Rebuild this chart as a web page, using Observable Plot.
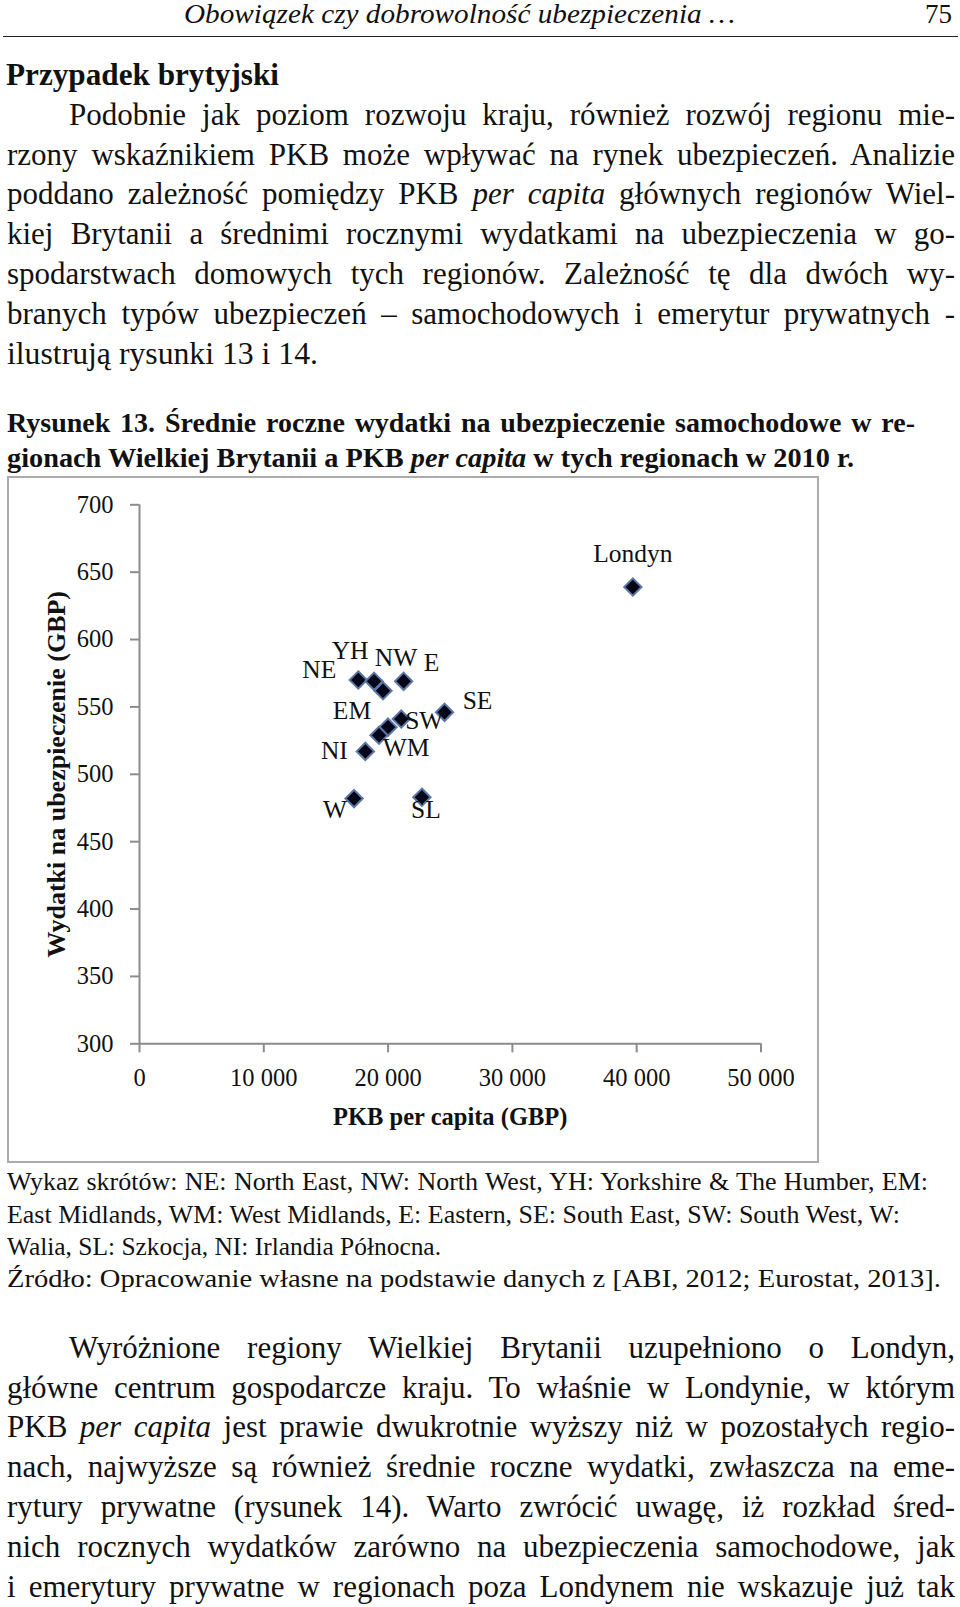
<!DOCTYPE html>
<html lang="pl">
<head>
<meta charset="utf-8">
<script src="https://cdn.jsdelivr.net/npm/d3@7"></script>
<script src="https://cdn.jsdelivr.net/npm/@observablehq/plot@0.6"></script>
<style>
  html, body { margin: 0; padding: 0; background: #fff; }
  body { width: 960px; height: 1607px; position: relative; overflow: hidden; font-family: "Liberation Serif", serif; color: #111; }
  .ln { position: absolute; white-space: nowrap; line-height: 1; }
  .ln > span { display: inline-block; transform-origin: 0 50%; }
  .hdr { font-size: 27px; font-style: italic; }
  .h2 { font-size: 31px; font-weight: bold; }
  .body { font-size: 31px; }
  .cap { font-size: 28px; font-weight: bold; }
  .leg { font-size: 26px; }
  #rule { position: absolute; left: 3px; width: 955px; top: 36px; height: 0; border-top: 1.6px solid #222; }
  #frame { position: absolute; left: 7px; top: 476px; width: 812px; height: 687px; border: 2px solid #ababab; box-sizing: border-box; }
  #chart { position: absolute; left: 8px; top: 477px; }
  #chart svg [aria-label="x-axis label"] text { font-weight: bold; font-size: 24.5px; }
  #chart svg [aria-label="y-axis label"] text { font-weight: bold; font-size: 26px; }
</style>
</head>
<body>
<div class="ln hdr" data-c="15.5" data-l="184" data-r="735"><span>Obowiązek czy dobrowolność ubezpieczenia …</span></div>
<div class="ln hdr" data-c="15.5" data-l="925" data-r="952" style="font-style:normal"><span>75</span></div>
<div id="rule"></div>

<div class="ln h2" data-c="75.5" data-l="6" data-r="279"><span>Przypadek brytyjski</span></div>

<div class="ln body" data-c="115" data-l="69" data-r="955" data-j="1"><span>Podobnie jak poziom rozwoju kraju, również rozwój regionu mie-</span></div>
<div class="ln body" data-c="154.8" data-l="7" data-r="955" data-j="1"><span>rzony wskaźnikiem PKB może wpływać na rynek ubezpieczeń. Analizie</span></div>
<div class="ln body" data-c="194.6" data-l="7" data-r="955" data-j="1"><span>poddano zależność pomiędzy PKB <i>per capita</i> głównych regionów Wiel-</span></div>
<div class="ln body" data-c="234.4" data-l="7" data-r="955" data-j="1"><span>kiej Brytanii a średnimi rocznymi wydatkami na ubezpieczenia w go-</span></div>
<div class="ln body" data-c="274.2" data-l="7" data-r="955" data-j="1"><span>spodarstwach domowych tych regionów. Zależność tę dla dwóch wy-</span></div>
<div class="ln body" data-c="314" data-l="7" data-r="955" data-j="1"><span>branych typów ubezpieczeń – samochodowych i emerytur prywatnych -</span></div>
<div class="ln body" data-c="353.8" data-l="7" data-r="318"><span>ilustrują rysunki 13 i 14.</span></div>

<div class="ln cap" data-c="424" data-l="7" data-r="915" data-j="1"><span>Rysunek 13. Średnie roczne wydatki na ubezpieczenie samochodowe w re-</span></div>
<div class="ln cap" data-c="459" data-l="7" data-r="854"><span>gionach Wielkiej Brytanii a PKB <i>per capita</i> w tych regionach w 2010 r.</span></div>

<div id="frame"></div>
<div id="chart"></div>

<div class="ln leg" data-c="1183" data-l="7" data-r="928" data-j="1"><span>Wykaz skrótów: NE: North East, NW: North West, YH: Yorkshire &amp; The Humber, EM:</span></div>
<div class="ln leg" data-c="1215.5" data-l="7" data-r="900" data-j="1"><span>East Midlands, WM: West Midlands, E: Eastern, SE: South East, SW: South West, W:</span></div>
<div class="ln leg" data-c="1248" data-l="7" data-r="441"><span>Walia, SL: Szkocja, NI: Irlandia Północna.</span></div>
<div class="ln leg" data-c="1280" data-l="7" data-r="941"><span>Źródło: Opracowanie własne na podstawie danych z [ABI, 2012; Eurostat, 2013].</span></div>

<div class="ln body" data-c="1348" data-l="69" data-r="955" data-j="1"><span>Wyróżnione regiony Wielkiej Brytanii uzupełniono o Londyn,</span></div>
<div class="ln body" data-c="1387.8" data-l="7" data-r="955" data-j="1"><span>główne centrum gospodarcze kraju. To właśnie w Londynie, w którym</span></div>
<div class="ln body" data-c="1427.6" data-l="7" data-r="955" data-j="1"><span>PKB <i>per capita</i> jest prawie dwukrotnie wyższy niż w pozostałych regio-</span></div>
<div class="ln body" data-c="1467.4" data-l="7" data-r="955" data-j="1"><span>nach, najwyższe są również średnie roczne wydatki, zwłaszcza na eme-</span></div>
<div class="ln body" data-c="1507.2" data-l="7" data-r="955" data-j="1"><span>rytury prywatne (rysunek 14). Warto zwrócić uwagę, iż rozkład śred-</span></div>
<div class="ln body" data-c="1547" data-l="7" data-r="955" data-j="1"><span>nich rocznych wydatków zarówno na ubezpieczenia samochodowe, jak</span></div>
<div class="ln body" data-c="1586.8" data-l="7" data-r="955" data-j="1"><span>i emerytury prywatne w regionach poza Londynem nie wskazuje już tak</span></div>

<script>
// ---- Data ----
const regions = ["NE", "YH", "NW", "E", "EM", "WM", "SW", "SE", "NI", "W", "SL", "Londyn"];
const gdpPerCapita = [17600, 18870, 19590, 21250, 19990, 19270, 21060, 24540, 18170, 17260, 22720, 39690];
const carInsuranceSpend = [570, 569, 562, 569, 535, 529, 541, 546, 517, 482, 483, 639];
const xTicks = [0, 10000, 20000, 30000, 40000, 50000];
const yTicks = [300, 350, 400, 450, 500, 550, 600, 650, 700];
const xTitle = "PKB per capita (GBP)";
const yTitle = "Wydatki na ubezpieczenie (GBP)";

// ---- Label placement (style, in pixels relative to each point) ----
const labelPlacement = {
  NE: [-39, -10], YH: [-24, -30], NW: [13, -33], E: [28, -18],
  EM: [-36, -16], WM: [27, 13], SW: [23, 1.5], SE: [33, -11],
  NI: [-31, -1], W: [-19, 11], SL: [4, 13], Londyn: [0, -33]
};

const table = regions.map((r, i) => ({region: r, gdp: gdpPerCapita[i], spend: carInsuranceSpend[i]}));
const fmtX = d => d3.format(",")(d).replace(/,/g, "\u00a0");
const axisGray = "#8c8c8c";

const chart = Plot.plot({
  width: 810,
  height: 685,
  marginLeft: 131,
  marginRight: 57.5,
  marginTop: 27.3,
  marginBottom: 118.7,
  style: {fontFamily: "'Liberation Serif', serif", fontSize: "24.5px", color: "#111", background: "transparent", overflow: "visible"},
  x: {domain: [0, 50000]},
  y: {domain: [300, 700]},
  marks: [
    Plot.axisY({ticks: yTicks, tickSize: 9, tickPadding: 17, stroke: axisGray, strokeWidth: 2, fill: "#111",
      tickFormat: d => String(d), label: yTitle, labelAnchor: "center", labelOffset: 93, labelArrow: "none"}),
    Plot.axisX({ticks: xTicks, tickSize: 9, tickPadding: 16, stroke: axisGray, strokeWidth: 2, fill: "#111",
      tickFormat: fmtX, label: xTitle, labelAnchor: "center", labelOffset: 81, labelArrow: "none"}),
    Plot.ruleX([0], {stroke: axisGray, strokeWidth: 2}),
    Plot.ruleY([300], {stroke: axisGray, strokeWidth: 2}),
    Plot.dot(table, {x: "gdp", y: "spend", symbol: "diamond2", r: 7.8, fill: "#05051a", stroke: "#5a78a3", strokeWidth: 2}),
    ...regions.map(r => Plot.text(table.filter(d => d.region === r), {
      x: "gdp", y: "spend", text: "region",
      dx: labelPlacement[r][0], dy: labelPlacement[r][1],
      fontSize: 25.5, fill: "#111"
    }))
  ]
});
document.getElementById("chart").appendChild(chart);

// ---- Fit page text lines to the reference extents ----
document.querySelectorAll(".ln").forEach(div => {
  const fs = parseFloat(getComputedStyle(div).fontSize);
  const c = parseFloat(div.dataset.c), l = parseFloat(div.dataset.l), r = parseFloat(div.dataset.r);
  div.style.top = (c - 0.52 * fs) + "px";
  div.style.left = l + "px";
  const span = div.firstElementChild;
  const target = r - l;
  const w = span.getBoundingClientRect().width;
  const spaces = (span.textContent.match(/ /g) || []).length;
  if (div.dataset.j === "1" && w < target && spaces > 0) {
    span.style.wordSpacing = ((target - w) / spaces) + "px";
  } else {
    span.style.transform = "scaleX(" + (target / w) + ")";
  }
});
</script>
</body>
</html>
